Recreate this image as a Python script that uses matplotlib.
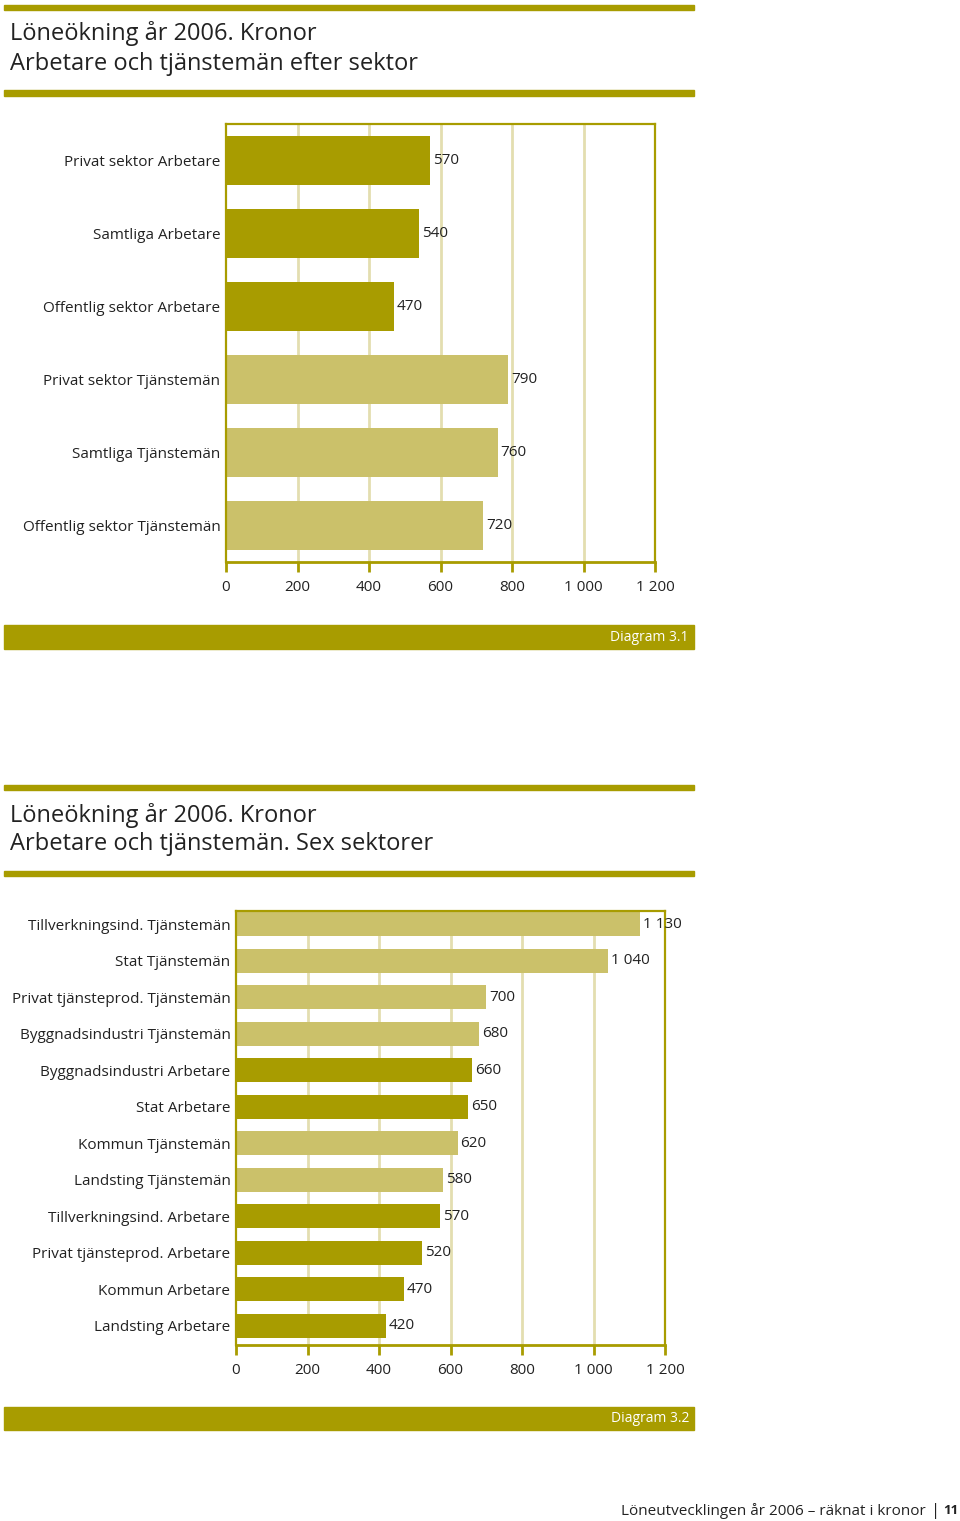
import matplotlib
matplotlib.use("Agg")
import matplotlib.pyplot as plt
from matplotlib.patches import Rectangle

plt.rcParams['font.family'] = ['Open Sans', 'DejaVu Sans']

DARK = '#A89C00'
LIGHT = '#CBC16A'
GRID = '#E3DEB0'
TEXT = '#222222'

# ---- Data: chart 1 ----
cat1 = ['Privat sektor Arbetare', 'Samtliga Arbetare', 'Offentlig sektor Arbetare',
        'Privat sektor Tjänstemän', 'Samtliga Tjänstemän', 'Offentlig sektor Tjänstemän']
val1 = [570, 540, 470, 790, 760, 720]
grp1 = ['A', 'A', 'A', 'T', 'T', 'T']

# ---- Data: chart 2 ----
cat2 = ['Tillverkningsind. Tjänstemän', 'Stat Tjänstemän', 'Privat tjänsteprod. Tjänstemän',
        'Byggnadsindustri Tjänstemän', 'Byggnadsindustri Arbetare', 'Stat Arbetare',
        'Kommun Tjänstemän', 'Landsting Tjänstemän', 'Tillverkningsind. Arbetare',
        'Privat tjänsteprod. Arbetare', 'Kommun Arbetare', 'Landsting Arbetare']
val2 = [1130, 1040, 700, 680, 660, 650, 620, 580, 570, 520, 470, 420]
grp2 = ['T', 'T', 'T', 'T', 'A', 'A', 'T', 'T', 'A', 'A', 'A', 'A']

xticks = [0, 200, 400, 600, 800, 1000, 1200]
xticklabels = ['0', '200', '400', '600', '800', '1 000', '1 200']

W, H = 960, 1521
fig = plt.figure(figsize=(W / 100, H / 100), dpi=100)


def fx(x):
    return x / W


def fy(y):
    return 1 - y / H


def band(x0, y0, x1, y1, color=DARK):
    fig.patches.append(Rectangle((fx(x0), fy(y1)), fx(x1) - fx(x0), fy(y0) - fy(y1),
                                 transform=fig.transFigure, color=color, zorder=0))


def fmt(v):
    return f"{v:,}".replace(',', ' ')


def chart(cats, vals, grps, left, right, top, bottom, ylim, height, title_y, bands, diag_band, diag_text):
    ax = fig.add_axes([fx(left), fy(bottom), fx(right) - fx(left), fy(top) - fy(bottom)])
    n = len(cats)
    pos = list(range(n))
    colors = [DARK if g == 'A' else LIGHT for g in grps]
    ax.barh(pos, vals, height=height, color=colors, zorder=3)
    for p, v in zip(pos, vals):
        ax.text(v + 8, p, fmt(v), va='center', ha='left', fontsize=11, color=TEXT, zorder=5)
    ax.set_xlim(0, 1200)
    ax.set_ylim(ylim[1], ylim[0])
    ax.set_yticks(pos)
    ax.set_yticklabels(cats, fontsize=11, color=TEXT, va='center_baseline')
    ax.tick_params(axis='y', length=0, pad=4)
    ax.set_xticks(xticks)
    ax.set_xticklabels(xticklabels, fontsize=11, color=TEXT)
    ax.tick_params(axis='x', length=7, width=2, color=DARK, direction='out', pad=6)
    for g in xticks[1:-1]:
        ax.axvline(g, color=GRID, lw=2, zorder=1)
    for s in ['left', 'top', 'right']:
        ax.spines[s].set_color(DARK)
        ax.spines[s].set_linewidth(1.6)
    ax.spines['bottom'].set_color(DARK)
    ax.spines['bottom'].set_linewidth(2)
    for s in ax.spines.values():
        s.set_zorder(4)
    ax.set_facecolor('none')
    # bands & titles
    band(4, bands[0][0], 694, bands[0][1])
    band(4, bands[1][0], 694, bands[1][1])
    fig.text(fx(10), fy(title_y[0]), 'Löneökning år 2006. Kronor', fontsize=17,
             va='center', ha='left', color=TEXT)
    fig.text(fx(10), fy(title_y[1]), title_y[2], fontsize=17,
             va='center', ha='left', color=TEXT)
    band(4, diag_band[0], 694, diag_band[1])
    fig.text(fx(689), fy((diag_band[0] + diag_band[1]) / 2), diag_text, fontsize=10,
             va='center', ha='right', color='white')
    return ax


chart(cat1, val1, grp1, 226, 655, 124, 562, (-0.5, 5.5), 0.66,
      (34, 64, 'Arbetare och tjänstemän efter sektor'),
      [(5, 10), (90, 96)], (625, 649), 'Diagram 3.1')

chart(cat2, val2, grp2, 236, 665, 911, 1345, (-0.36, 11.53), 0.66,
      (815, 844, 'Arbetare och tjänstemän. Sex sektorer'),
      [(785, 790), (871, 876)], (1407, 1430), 'Diagram 3.2')

# footer
fig.text(fx(926), fy(1511), 'Löneutvecklingen år 2006 – räknat i kronor', fontsize=11,
         va='center', ha='right', color=TEXT)
fig.text(fx(936), fy(1511), '|', fontsize=12, va='center', ha='center', color=TEXT)
fig.text(fx(958), fy(1511), '11', fontsize=9.5, fontweight='bold', va='center', ha='right', color=TEXT)

fig.savefig('out.png', dpi=100)
